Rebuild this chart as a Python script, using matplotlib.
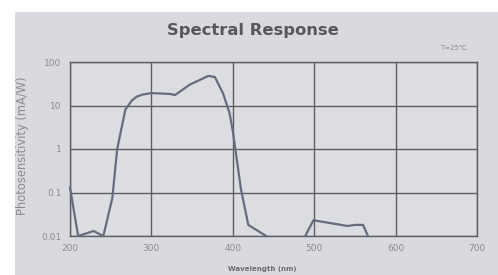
#!/usr/bin/env python3
"""Spectral response curve (photosensitivity vs wavelength)."""

import matplotlib

matplotlib.use("Agg")
import matplotlib.pyplot as plt
from matplotlib.patches import Rectangle

# UV band (first segment) and the weak tail near 500 nm (second segment)
WL_MAIN = [200, 210, 229, 241, 252, 258, 268, 276, 282, 290, 300, 323, 329, 347, 370, 378, 388, 396, 400, 410, 419, 441]
SENS_MAIN = [0.13, 0.01, 0.013, 0.01, 0.075, 1.0, 8.0, 13.0, 16.0, 18.0, 19.3, 18.4, 17.4, 30.0, 48.0, 45.0, 19.0, 6.7, 2.6, 0.12, 0.018, 0.01]
WL_TAIL = [489, 499, 541, 550, 560, 566]
SENS_TAIL = [0.01, 0.023, 0.017, 0.018, 0.018, 0.01]

X_TICKS = [200, 300, 400, 500, 600, 700]
Y_TICKS = [0.01, 0.1, 1, 10, 100]
Y_TICK_LABELS = ["0.01", "0.1", "1", "10", "100"]

bg = "#d9dadf"
grid = "#5c5e63"
curve = "#666c7c"
text_gray = "#8a8b90"

fig = plt.figure(figsize=(4.98, 2.75), dpi=100)
fig.patch.set_facecolor("white")
fig.patches.append(Rectangle((15 / 498, 0), 1, 1 - 12 / 275, transform=fig.transFigure,
                             facecolor=bg, edgecolor="none", zorder=-10))

ax = fig.add_axes([70 / 498, 1 - 236 / 275, 407 / 498, 174 / 275])
ax.set_facecolor("#dcdde1")
ax.set_yscale("log")
ax.set_xlim(200, 700)
ax.set_ylim(0.01, 100)
ax.set_xticks(X_TICKS)
ax.set_yticks(Y_TICKS)
ax.set_yticklabels(Y_TICK_LABELS)
ax.minorticks_off()
ax.tick_params(length=0, labelsize=6.5, colors=text_gray, pad=6)
ax.grid(True, color=grid, lw=1.0)
for s in ax.spines.values():
    s.set_color(grid)
    s.set_linewidth(1.0)

ax.plot(WL_MAIN, SENS_MAIN, color=curve, lw=1.6, solid_joinstyle="round", clip_on=False, zorder=3)
ax.plot(WL_TAIL, SENS_TAIL, color=curve, lw=1.6, solid_joinstyle="round", clip_on=False, zorder=3)

ax.set_ylabel("Photosensitivity (mA/W)", fontsize=8.3, color=text_gray)
ax.yaxis.set_label_coords((29 - 70) / 407, 0.52)

fig.text(253 / 498, 1 - 30 / 275, "Spectral Response", ha="center", va="center",
         fontsize=11.8, fontweight="bold", color="#56585e")
fig.text(453 / 498, 1 - 48 / 275, "T=25\u2103", ha="center", va="center", fontsize=5, color=text_gray)
fig.text(262 / 498, 1 - 269 / 275, "Wavelength (nm)", ha="center", va="center", fontsize=5,
         color="#6a6b70", fontweight="bold")

fig.savefig("out.png", dpi=100, facecolor=fig.get_facecolor())
